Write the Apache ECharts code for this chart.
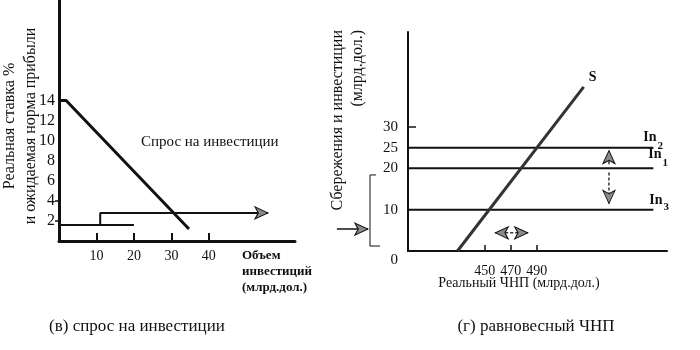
<!DOCTYPE html>
<html><head><meta charset="utf-8">
<script src="https://cdn.jsdelivr.net/npm/echarts@6/dist/echarts.min.js"></script>
<style>html,body{margin:0;padding:0;background:#fff}#c{width:700px;height:350px}</style>
</head><body><div id="c"></div>
<script>
// ---- left panel: investment demand ----
const leftYTicks = [2, 4, 6, 8, 10, 12, 14];
const leftYMarks = [2, 4];
const leftXTicks = [10, 20, 30, 40];
const demandX = [0, 1.9, 34.7];
const demandY = [14, 14, 1.2];
const baseX = [0, 20];
const baseY = [1.6, 1.6];
const shiftX = [11, 11, 55.8];
const shiftY = [1.6, 2.8, 2.8];
// ---- right panel: equilibrium GNP ----
const rightXTicks = [450, 470, 490];
const rightYTicks = [0, 10, 20, 25, 30];
const rightYMarks = [30];
const investLevels = [10, 20, 25];
const investSubs = ['3', '1', '2'];
const investStartX = 391;
const investEndX = 579.5;
const savingsX = [429, 526];
const savingsY = [0, 39.7];
const upArrowX = [545.4, 545.4], upArrowY = [21, 24.3];
const downArrowX = [545.4, 545.4], downArrowY = [19, 11.5];
const gnpArrowX = [458, 483], gnpArrowY = [4.4, 4.4];
const bracketX = [366.4, 361.8, 361.8, 369.5], bracketY = [18.4, 18.4, 1.2, 1.2];
const inArrowX = [336.4, 360.2], inArrowY = [5.3, 5.3];

const SERIF = '"Liberation Serif", "Times New Roman", serif';
const INK = '#111';

function pts(xs, ys) { return xs.map((x, i) => [x, ys[i]]); }
function arrowData(xs, ys, heads) {
  return xs.map((x, i) => {
    const item = { value: [x, ys[i]] };
    if (heads[i] !== undefined) {
      item.symbol = 'arrow'; item.symbolRotate = heads[i]; item.symbolSize = [9, 13];
    } else { item.symbol = 'none'; }
    return item;
  });
}
function lineSeries(grid, data, style, extra) {
  return Object.assign({
    type: 'line', xAxisIndex: grid, yAxisIndex: grid, data: data,
    showSymbol: true, symbol: 'none', silent: true, animation: false,
    lineStyle: style, itemStyle: { color: '#8a8a8a', borderColor: INK, borderWidth: 1 },
    emphasis: { disabled: true }
  }, extra || {});
}

const labelOffsets = { '2': [-10, -17, 10], '1': [-5, -21, 10], '3': [-4, -16, 8] };
const investSeries = investLevels.map((lv, i) => {
  const sub = investSubs[i];
  const o = labelOffsets[sub];
  return lineSeries(1, [[investStartX, lv], [investEndX, lv]], { color: INK, width: 2 }, {
    endLabel: {
      show: true, distance: 0, align: 'left', verticalAlign: 'top', offset: [o[0], o[1]],
      formatter: '{a|In}{b|' + sub + '}',
      rich: {
        a: { fontFamily: SERIF, fontSize: 14, fontWeight: 'bold', color: INK, verticalAlign: 'top', lineHeight: 14 },
        b: { fontFamily: SERIF, fontSize: 11, fontWeight: 'bold', color: INK, verticalAlign: 'top', padding: [o[2], 0, 0, 1] }
      }
    }
  });
});

const hiddenAxis = { show: false, splitLine: { show: false } };

const chart = echarts.init(document.getElementById('c'), null, { renderer: 'canvas' });
chart.setOption({
  backgroundColor: '#fff',
  animation: false,
  grid: [
    { left: 59, top: 0, width: 236, height: 241 },
    { left: 408, top: 32, width: 259, height: 219 },
    { left: 330, top: 170, width: 60, height: 81 }
  ],
  xAxis: [
    { gridIndex: 0, type: 'value', min: 0, max: 63,
      axisLine: { lineStyle: { color: INK, width: 3 } },
      axisTick: { show: true, inside: true, length: 8, customValues: leftXTicks, lineStyle: { color: INK, width: 2 } },
      axisLabel: { customValues: leftXTicks, margin: 8, fontFamily: SERIF, fontSize: 14, color: INK },
      splitLine: { show: false } },
    { gridIndex: 1, type: 'value', min: 391, max: 590,
      axisLine: { lineStyle: { color: INK, width: 2 } },
      axisTick: { show: true, inside: true, length: 6, customValues: rightXTicks, lineStyle: { color: INK, width: 1.5 } },
      axisLabel: { customValues: rightXTicks, margin: 13, fontFamily: SERIF, fontSize: 14, color: INK },
      splitLine: { show: false } },
    Object.assign({ gridIndex: 2, type: 'value', min: 331.07, max: 377.17 }, hiddenAxis)
  ],
  yAxis: [
    { gridIndex: 0, type: 'value', min: 0, max: 24,
      axisLine: { lineStyle: { color: INK, width: 3 } },
      axisTick: { show: true, length: 4, customValues: leftYMarks, lineStyle: { color: INK, width: 1.5 } },
      axisLabel: { customValues: leftYTicks, margin: 4, fontFamily: SERIF, fontSize: 16, color: INK },
      splitLine: { show: false } },
    { gridIndex: 1, type: 'value', min: 0, max: 53,
      axisLine: { lineStyle: { color: INK, width: 2 } },
      axisTick: { show: true, inside: true, length: 8, customValues: rightYMarks, lineStyle: { color: INK, width: 1.5 } },
      axisLabel: { customValues: rightYTicks, margin: 10, fontFamily: SERIF, fontSize: 15, color: INK,
        formatter: v => v === 0 ? '{z|0}' : String(v),
        rich: { z: { fontFamily: SERIF, fontSize: 15, color: INK, padding: [18, 0, 0, 0] } } },
      splitLine: { show: false } },
    Object.assign({ gridIndex: 2, type: 'value', min: 0, max: 19.6 }, hiddenAxis)
  ],
  series: [
    lineSeries(0, pts(demandX, demandY), { color: INK, width: 3 }),
    lineSeries(0, pts(baseX, baseY), { color: INK, width: 2 }),
    lineSeries(0, arrowData(shiftX, shiftY, { 2: -90 }), { color: INK, width: 2 }),
    ...investSeries,
    lineSeries(1, pts(savingsX, savingsY), { color: '#333', width: 3 }, {
      endLabel: { show: true, distance: 0, align: 'left', verticalAlign: 'middle', offset: [5, -10],
        formatter: 'S', fontFamily: SERIF, fontSize: 14, fontWeight: 'bold', color: INK }
    }),
    lineSeries(1, arrowData(upArrowX, upArrowY, { 1: 0 }), { color: '#333', width: 1.5, type: [3, 2] }),
    lineSeries(1, arrowData(downArrowX, downArrowY, { 1: 180 }), { color: '#333', width: 1.5, type: [3, 2] }),
    lineSeries(1, arrowData(gnpArrowX, gnpArrowY, { 0: 90, 1: -90 }), { color: '#333', width: 1.5, type: [3, 2] }),
    lineSeries(2, pts(bracketX, bracketY), { color: INK, width: 1 }, { clip: false }),
    lineSeries(2, arrowData(inArrowX, inArrowY, { 1: -90 }), { color: INK, width: 1.5 }, { clip: false })
  ],
  graphic: [
    { type: 'text', x: 141, y: 142, silent: true,
      style: { text: 'Спрос на инвестиции', fontFamily: SERIF, fontSize: 15, fill: INK,
        verticalAlign: 'middle', textVerticalAlign: 'middle' } },
    { type: 'text', x: 242, y: 248, silent: true,
      style: { text: 'Объем\nинвестиций\n(млрд.дол.)', fontFamily: SERIF, fontSize: 13, fontWeight: 'bold', lineHeight: 16, fill: INK } },
    { type: 'text', x: -1, y: 126, rotation: Math.PI / 2, silent: true,
      style: { text: 'Реальная ставка %\nи ожидаемая норма прибыли', fontFamily: SERIF, fontSize: 16, lineHeight: 21, fill: INK,
        align: 'center', textAlign: 'center', verticalAlign: 'top', textVerticalAlign: 'top' } },
    { type: 'text', x: 328, y: 30, rotation: Math.PI / 2, silent: true,
      style: { text: 'Сбережения и инвестиции\n(млрд.дол.)', fontFamily: SERIF, fontSize: 16, lineHeight: 20, fill: INK,
        align: 'right', textAlign: 'right', verticalAlign: 'top', textVerticalAlign: 'top' } },
    { type: 'text', x: 519, y: 283, silent: true,
      style: { text: 'Реальный ЧНП (млрд.дол.)', fontFamily: SERIF, fontSize: 14, fill: INK,
        align: 'center', textAlign: 'center', verticalAlign: 'middle', textVerticalAlign: 'middle' } },
    { type: 'text', x: 137, y: 327, silent: true,
      style: { text: '(в) спрос на инвестиции', fontFamily: SERIF, fontSize: 17, fill: INK,
        align: 'center', textAlign: 'center', verticalAlign: 'middle', textVerticalAlign: 'middle' } },
    { type: 'text', x: 536, y: 327, silent: true,
      style: { text: '(г) равновесный ЧНП', fontFamily: SERIF, fontSize: 17, fill: INK,
        align: 'center', textAlign: 'center', verticalAlign: 'middle', textVerticalAlign: 'middle' } }
  ]
});
</script></body></html>
